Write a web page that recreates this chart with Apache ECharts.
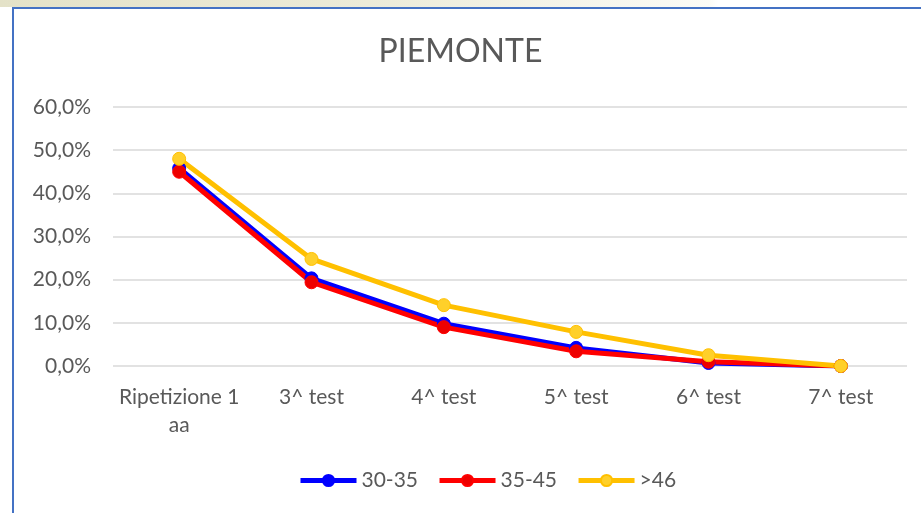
<!DOCTYPE html>
<html>
<head>
<meta charset="utf-8">
<script src="https://cdn.jsdelivr.net/npm/echarts@6/dist/echarts.min.js"></script>
<style>
    html, body { margin: 0; padding: 0; background: #fff; }
    #chart { width: 921px; height: 513px; }
</style>
</head>
<body>
<div id="chart"></div>
<script>
    // categorie asse x
    var categories = ['Ripetizione 1 aa', '3^ test', '4^ test', '5^ test', '6^ test', '7^ test']
    // valori in percentuale
    var serie3035 = [45.8, 20.3, 9.8, 4.2, 0.7, 0]
    var serie3545 = [45.0, 19.4, 9.0, 3.4, 1.0, 0]
    var serie46 = [48.0, 24.8, 14.1, 7.9, 2.5, 0]
    var seriesNames = ['30-35', '35-45', '>46']

    var textColor = '#595959'
    var font = 'Lato'
    var labelSize = 21

    function makeSeries(name, data, color, fill) {
        return {
            name: name,
            type: 'line',
            data: data,
            symbol: 'circle',
            symbolSize: 13,
            lineStyle: { color: color, width: 5 },
            itemStyle: { color: fill, borderColor: color, borderWidth: 1 },
            emphasis: { disabled: true },
            animation: false
        }
    }

    var myChart = echarts.init(document.getElementById('chart'))
    var option = {
        backgroundColor: '#fff',
        textStyle: { fontFamily: font },
        title: {
            text: 'PIEMONTE',
            left: 'center',
            top: 31,
            textStyle: { color: textColor, fontSize: 32, fontWeight: 'normal', fontFamily: font }
        },
        graphic: [
            {
                type: 'rect',
                shape: { x: 0, y: 0, width: 921, height: 7 },
                style: {
                    fill: {
                        type: 'linear', x: 0, y: 0, x2: 1, y2: 0,
                        colorStops: [
                            { offset: 0, color: '#e4e2c8' },
                            { offset: 0.4, color: '#ecebd8' },
                            { offset: 0.77, color: '#fbfbf6' },
                            { offset: 0.78, color: '#ffffff' }
                        ]
                    }
                },
                silent: true
            },
            {
                type: 'polyline',
                shape: { points: [[13, 513], [13, 8], [921, 8]] },
                style: { stroke: '#4472c4', lineWidth: 2, fill: null },
                silent: true
            }
        ],
        grid: {
            left: 113,
            right: 14,
            top: 107,
            bottom: 147,
            containLabel: false
        },
        legend: {
            data: seriesNames,
            top: 465,
            left: 293,
            itemWidth: 56,
            itemHeight: 14,
            itemGap: 19,
            lineStyle: { width: 5 },
            textStyle: { color: textColor, fontSize: labelSize, fontFamily: font }
        },
        xAxis: {
            type: 'category',
            data: categories,
            boundaryGap: true,
            axisLine: { show: false },
            axisTick: { show: false },
            axisLabel: {
                color: textColor,
                fontSize: labelSize,
                fontFamily: font,
                lineHeight: 28,
                margin: 17,
                interval: 0,
                formatter: function (v) {
                    return v.replace(' 1 aa', ' 1\naa')
                }
            }
        },
        yAxis: {
            type: 'value',
            min: 0,
            max: 60,
            interval: 10,
            axisLine: { show: false },
            axisTick: { show: false },
            splitLine: { lineStyle: { color: '#d9d9d9', width: 1.5 } },
            axisLabel: {
                color: textColor,
                fontSize: labelSize,
                fontFamily: font,
                margin: 22,
                formatter: function (v) {
                    return v.toFixed(1).replace('.', ',') + '%'
                }
            }
        },
        series: [
            makeSeries(seriesNames[0], serie3035, '#0000ff', '#0000ff'),
            makeSeries(seriesNames[1], serie3545, '#ff0000', '#ee0000'),
            makeSeries(seriesNames[2], serie46, '#ffc000', '#ffd02a')
        ]
    }
    myChart.setOption(option)
</script>
</body>
</html>
